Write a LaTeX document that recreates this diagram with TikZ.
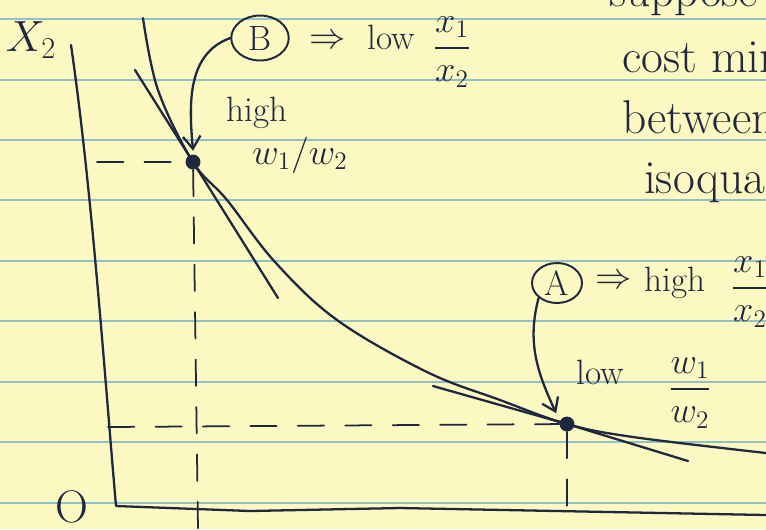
\documentclass[tikz,border=0pt]{standalone}
\usepackage{amsmath}
\usetikzlibrary{arrows.meta, positioning, shapes.geometric}
\definecolor{paper}{HTML}{FBF8C2}
\definecolor{rule}{HTML}{94BFC6}
\definecolor{ink}{HTML}{20283F}

\begin{document}
\begin{tikzpicture}[x=0.02cm, y=-0.02cm,
      pen/.style={draw=ink, line width=1.3pt, line cap=round, line join=round},
      guide/.style={pen, line width=1pt, dash pattern=on 15pt off 12pt},
      dot/.style={circle, fill=ink, inner sep=0pt, minimum size=8.5pt},
      hand/.style={text=ink, inner sep=1pt, font=\fontsize{20}{22}\selectfont},
      note/.style={hand, anchor=base west, font=\fontsize{27}{30}\selectfont},
      tag/.style={hand, draw=ink, line width=1.1pt, ellipse, inner sep=0pt,
                  minimum width=1.15cm, minimum height=0.9cm},
      arr/.style={pen, -{Straight Barb[length=2.5mm, width=3.5mm]}}]
    % paper
    \useasboundingbox (0,0) rectangle (766,529);
    \fill[paper] (0,0) rectangle (766,529);
    \clip (0,0) rectangle (766,529);
    \foreach \y in {19,80,140,200,261,321,382,442,503}
      \draw[rule, line width=0.8pt] (0,\y) -- (766,\y);

    % axes
    \coordinate (ytop) at (71,45);
    \coordinate (orig) at (116,506);
    \coordinate (xend) at (766,515);
    \draw[pen] (ytop) .. controls (92,190) and (105,380) .. (orig)
      -- (250,511) -- (400,508) -- (xend);
    \node[hand, font=\fontsize{26}{28}\selectfont] (ylab) at (31,40) {$X_2$};
    \node[hand, font=\fontsize{26}{28}\selectfont] (olab) at (72,507) {O};

    % the two cost-minimising points
    \node[dot] (B) at (193,162) {};
    \node[dot] (A) at (567,424) {};

    % guides
    \coordinate (By) at (97,162);  \coordinate (Bx) at (198,529);
    \coordinate (Ay) at (108,427); \coordinate (Ax) at (567,520);
    \draw[guide] (By) -- (B); \draw[guide] (B) -- (Bx);
    \draw[guide] (Ay) -- (A); \draw[guide] (A) -- (Ax);

    % isoquant and isocost lines
    \draw[pen] plot[smooth, tension=0.6] coordinates {(143,18) (158,90)
      (B.center) (227,200) (275,262) (337,320) (427,372) (500,400)
      (A.center) (633,437) (766,453)};
    \draw[pen] (135,70) -- (B.center) -- (278,298);
    \draw[pen] (433,386) -- (A.center) -- (688,461);

    % labels
    \node[tag] (Bt) at (260,38) {B};
    \node[hand] (Bimp) at (328,42) {$\Rightarrow$};
    \node[hand] (Blow) at (391,37) {low};
    \node[hand] (Bfrac) at (452,52) {$\dfrac{x_1}{x_2}$};
    \node[hand] (Bhigh) at (257,113) {high};
    \node[hand] (Bw) at (300,155) {$w_1/w_2$};
    \draw[arr] (Bt.west) to[out=200, in=95] ([yshift=2pt]B.north);

    \node[tag, minimum width=1cm, minimum height=0.8cm] (At) at (557,283) {A};
    \node[hand] (Aimp) at (614,282) {$\Rightarrow$};
    \node[hand] (Ahigh) at (675,283) {high};
    \node[hand] (Afrac) at (750,292) {$\dfrac{x_1}{x_2}$};
    \node[hand] (Alow) at (600,372) {low};
    \node[hand] (Aw) at (690,393) {$\dfrac{w_1}{w_2}$};
    \draw[arr] (At.south west) to[out=255, in=115] ([xshift=-3pt,yshift=3pt]A.north west);

    % note on the right
    \node[note] (n1) at (607,6) {suppose};
    \node[note] (n2) at (620,72) {cost min};
    \node[note] (n3) at (620,133) {between};
    \node[note] (n4) at (642,193) {isoquant};
  \end{tikzpicture}
\end{document}
